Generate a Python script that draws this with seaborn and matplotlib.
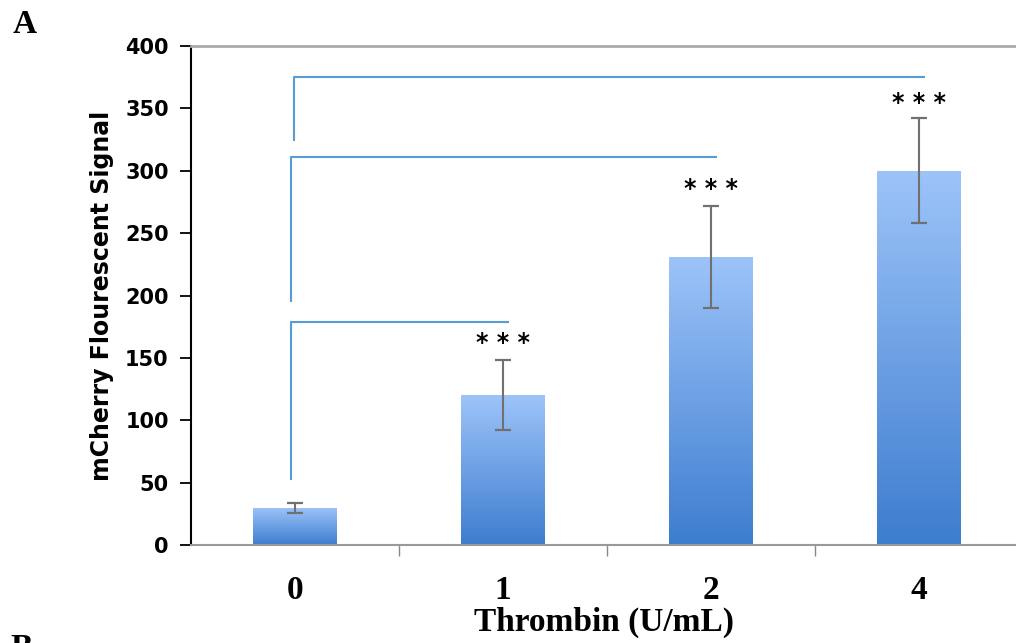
import numpy as np
import pandas as pd
import matplotlib
matplotlib.use("Agg")
import matplotlib.pyplot as plt
from matplotlib.colors import LinearSegmentedColormap
import seaborn as sns

# ---- data ----
categories = ["0", "1", "2", "4"]
values = [30, 120, 231, 300]
errors = [4, 28, 41, 42]
stars = ["", "* * *", "* * *", "* * *"]
star_y = [None, 162, 285, 354]
# brackets: (from category index, to category index, vertical bottom, level)
bracket_from = [0, 0, 0]
bracket_to = [1, 2, 3]
bracket_low = [52, 195, 324]
bracket_high = [179, 311, 375]

sns.set_style("white")
plt.rcParams["font.family"] = ["DejaVu Sans"]
plt.rcParams["text.color"] = "black"
plt.rcParams["axes.labelcolor"] = "black"
plt.rcParams["xtick.color"] = "black"
plt.rcParams["ytick.color"] = "black"

fig = plt.figure(figsize=(10.16, 6.43), dpi=100)
ax = fig.add_axes([0.188, 0.1524, 0.812, 0.776])

df = pd.DataFrame({"Thrombin": categories, "Signal": values})
sns.barplot(data=df, x="Thrombin", y="Signal", width=0.4, color="#6a9ee6",
            errorbar=None, ax=ax)

# gradient fill on bars
cmap = LinearSegmentedColormap.from_list("g", ["#3d7dcf", "#9dc4f9"])
grad = np.linspace(0, 1, 256).reshape(-1, 1)
for p in ax.patches:
    x0, y0 = p.get_x(), p.get_y()
    w, h = p.get_width(), p.get_height()
    im = ax.imshow(grad, cmap=cmap, origin="lower", aspect="auto",
                   extent=[x0, x0 + w, y0, y0 + h], zorder=p.get_zorder() + 0.1)
    im.set_clip_path(p)

xs = np.arange(len(categories))
eb = ax.errorbar(xs, values, yerr=errors, fmt="none", ecolor="#707070",
                 elinewidth=1.5, capsize=6, capthick=1.6, zorder=5)
for cap in eb[1]:
    cap.set_color("#404040")

for i, s in enumerate(stars):
    if s:
        ax.text(xs[i], star_y[i], s, ha="center", va="center", fontsize=17,
                fontweight="bold", color="black", zorder=6)

bc = "#5b9bd5"
offs = [-0.02, -0.02, -0.005]
for f, t, lo, hi, o in zip(bracket_from, bracket_to, bracket_low, bracket_high, offs):
    ax.plot([f + o, f + o, t + 0.03], [lo, hi, hi], color=bc, lw=1.5, zorder=4,
            solid_capstyle="butt")

ax.set_xlim(-0.5, 3.467)
ax.set_ylim(0, 400)
ax.set_yticks(np.arange(0, 401, 50))
ax.set_xticks(xs)
ax.set_xticklabels(categories, fontfamily="Liberation Serif", fontweight="bold",
                   fontsize=24)
for lab in ax.get_yticklabels():
    lab.set_fontweight("bold")
    lab.set_fontsize(15)
ax.tick_params(axis="y", which="major", left=True, length=8, width=1.3,
               color="black", pad=8)
ax.tick_params(axis="x", which="major", bottom=False, pad=18)
ax.set_xticks([0.5, 1.5, 2.5], minor=True)
ax.tick_params(axis="x", which="minor", bottom=True, length=8, width=1,
               color="#888888")

ax.set_xlabel("Thrombin (U/mL)", fontfamily="Liberation Serif", fontweight="bold",
              fontsize=24, labelpad=1)
ax.set_ylabel("mCherry Flourescent Signal", fontweight="bold", fontsize=17,
              labelpad=8)

ax.spines["left"].set_color("black")
ax.spines["left"].set_linewidth(1.5)
ax.spines["bottom"].set_color("#999999")
ax.spines["bottom"].set_linewidth(1.5)
ax.spines["top"].set_color("#aaaaaa")
ax.spines["top"].set_linewidth(2)
ax.spines["right"].set_visible(False)

fig.text(0.012, 0.962, "A", fontfamily="Liberation Serif", fontweight="bold",
         fontsize=24, va="center")
fig.text(0.010, -0.008, "B", fontfamily="Liberation Serif", fontweight="bold",
         fontsize=24, va="center")

fig.savefig("out.png", dpi=100)
